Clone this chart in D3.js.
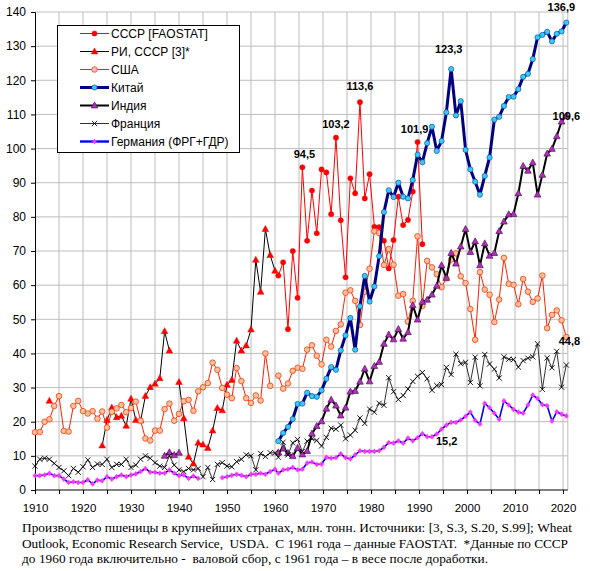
<!DOCTYPE html>
<html>
<head>
<meta charset="utf-8">
<script src="https://cdn.jsdelivr.net/npm/d3@7"></script>
<style>
  body { margin: 0; background: #fff; }
  svg { display: block; }
</style>
</head>
<body>
<svg id="svg" width="590" height="571"></svg>
<script>
// years: [3] part runs 1910..1960, FAOSTAT part 1961..2021
var earlyYears = d3.range(1910, 1961);
var faoYears = d3.range(1961, 2022);

// wheat, mln t, 1910..1960
var usaEarly = [16.9, 17.0, 20.0, 20.7, 24.6, 27.5, 17.3, 17.1, 24.6, 26.1,
                23.1, 22.4, 23.1, 20.9, 23.0, 18.3, 22.9, 23.9, 24.9, 22.8,
                24.0, 25.9, 20.3, 15.1, 14.5, 17.4, 17.4, 23.7, 25.3, 20.3,
                22.3, 26.0, 26.4, 23.2, 28.9, 30.1, 31.3, 37.3, 35.2, 29.9,
                27.9, 26.9, 35.7, 31.9, 26.9, 25.5, 27.7, 26.2, 40.0, 30.5,
                null];
var franceEarly = [7.0, 9.0, 9.3, 9.0, 7.8, 6.6, 5.6, 4.2, 6.3, 5.2,
                   6.8, 8.8, 6.6, 7.6, 7.5, 9.0, 6.6, 7.5, 7.5, 9.0,
                   6.6, 7.3, 9.0, 10.0, 9.3, 8.0, 7.0, 6.6, 10.0, 7.3,
                   5.9, 5.4, 6.3, 5.9, 6.3, 3.9, 6.6, 3.1, 7.5, 8.0,
                   7.0, 6.8, 8.3, 9.0, 10.3, 10.0, 5.9, 10.7, 9.8, 10.9,
                   10.9];
var germanyEarly = [4.2, 4.2, 4.4, 4.9, 4.2, 4.2, 3.2, 2.2, 2.4, 2.2,
                    2.2, 3.0, 1.8, 2.9, 2.7, 3.9, 3.2, 3.9, 4.4, 3.9,
                    4.4, 4.7, 5.4, 6.3, 5.2, 5.2, 4.9, 4.9, 5.9, 4.9,
                    4.2, 4.4, 3.4, 4.1, 3.4, null, null, null, null, 3.6,
                    3.9, 4.3, 4.6, 4.3, 3.9, 4.6, 4.6, 4.9, 4.6, 5.4,
                    6.1];
var riUssrEarly = [null, null, null, 26.1, null, null, null, null, null, null,
                   null, null, null, null, 13.0, 20.5, 24.1, 21.3, 21.7, 18.8,
                   26.7, 20.5, 20.3, 27.5, 30.1, 31.1, 32.7, 46.5, 40.8, null,
                   31.6, 21.0, 9.7, 7.7, 13.8, 13.3, 12.3, 17.4, 24.0, 23.3,
                   30.8, 32.2, 43.7, 40.8, 42.3, 47.0, 67.4, 58.0, 76.4, 68.8,
                   64.2];
var indiaEarly = [null, null, null, null, null, null, null, null, null, null,
                  null, null, null, null, null, null, null, null, null, null,
                  null, null, null, null, null, null, null, 10.0, 11.0, 10.2,
                  10.9, null, null, null, null, null, null, null, null, null,
                  null, null, null, null, null, null, null, null, null, null,
                  null];

// wheat, mln t, FAOSTAT 1961..2021 (USSR 1961..1991)
var ussrFao = [62.8, 66.7, 47.1, 70.0, 56.3, 94.5, 73.0, 87.7, 75.2, 93.9,
               93.0, 80.8, 103.2, 79.0, 62.3, 91.3, 86.9, 113.6, 85.4, 92.5,
               77.1, 77.0, 73.0, 64.9, 73.2, 85.9, 77.6, 79.1, 87.4, 101.9,
               72.0];
var usaFao = [33.5, 29.7, 31.2, 34.9, 35.8, 35.5, 41.1, 42.4, 39.3, 36.8,
              44.0, 42.0, 46.6, 48.5, 57.8, 58.5, 55.4, 48.3, 58.1, 64.8,
              75.8, 75.3, 65.9, 70.6, 66.0, 56.9, 57.4, 49.3, 55.4, 74.3,
              53.9, 67.1, 65.2, 63.2, 59.4, 62.0, 67.5, 69.3, 62.6, 60.6,
              53.0, 44.0, 63.8, 58.7, 57.2, 49.2, 55.8, 68.0, 60.4, 60.1,
              54.4, 61.8, 58.1, 55.1, 56.1, 62.8, 47.4, 51.3, 52.6, 49.7,
              44.8];
var chinaFao = [14.3, 16.7, 18.5, 20.8, 25.2, 25.3, 28.5, 27.5, 27.3, 29.2,
                32.6, 36.0, 35.2, 40.9, 45.3, 50.4, 41.1, 53.8, 62.7, 55.2,
                59.6, 68.5, 81.4, 87.8, 85.8, 90.0, 85.9, 85.4, 90.8, 98.2,
                96.0, 101.6, 106.4, 99.3, 102.2, 110.6, 123.3, 109.7, 113.9, 99.6,
                93.9, 90.3, 86.5, 92.0, 97.4, 108.5, 109.3, 112.5, 115.1, 115.2,
                117.4, 121.0, 121.9, 126.2, 132.6, 133.3, 134.2, 131.4, 133.6, 134.3,
                136.9];
var indiaFao = [11.0, 12.1, 10.8, 9.9, 12.3, 10.4, 11.4, 16.5, 18.7, 20.1,
                23.8, 26.4, 24.7, 21.8, 24.1, 28.8, 29.0, 31.7, 35.5, 31.8,
                36.3, 37.5, 42.8, 45.5, 44.1, 47.1, 44.3, 46.2, 54.1, 49.9,
                55.1, 55.7, 57.2, 59.8, 65.8, 62.1, 69.4, 66.3, 71.3, 76.4,
                69.7, 72.8, 65.8, 72.2, 68.6, 69.4, 75.8, 78.6, 80.7, 80.8,
                86.9, 94.9, 93.5, 95.9, 86.5, 92.3, 98.5, 99.9, 103.6, 107.9,
                109.6];
var franceFao = [9.6, 14.0, 10.3, 13.8, 14.8, 11.3, 14.3, 15.0, 14.5, 12.9,
                 15.4, 18.1, 17.8, 19.0, 15.0, 16.1, 17.5, 21.1, 19.5, 23.7,
                 22.8, 25.4, 24.8, 32.9, 28.8, 26.5, 27.7, 29.6, 31.8, 33.3,
                 34.4, 32.6, 29.2, 30.6, 30.9, 35.9, 33.8, 39.8, 37.0, 37.4,
                 31.5, 38.9, 30.5, 39.7, 36.9, 35.4, 32.8, 39.0, 38.3, 38.2,
                 36.0, 37.9, 38.6, 39.0, 42.8, 29.5, 38.7, 35.8, 40.6, 30.1,
                 36.6];
var germanyFao = [4.9, 5.9, 6.1, 6.6, 5.9, 6.1, 7.9, 8.2, 7.5, 7.6,
                  9.6, 9.3, 9.5, 10.6, 9.5, 9.1, 10.3, 11.5, 11.3, 11.3,
                  11.3, 11.5, 12.5, 13.9, 13.7, 14.4, 13.7, 15.2, 14.4, 15.3,
                  16.5, 15.6, 15.6, 16.4, 17.8, 19.0, 19.8, 19.8, 20.5, 21.6,
                  22.8, 20.4, 19.3, 25.4, 24.1, 22.5, 20.7, 26.1, 24.9, 23.6,
                  22.8, 22.5, 24.9, 27.8, 26.8, 25.0, 24.7, 20.2, 22.9, 22.2,
                  21.7];

var seriesNames = ['СССР [FAOSTAT]', 'РИ, СССР [3]*', 'США', 'Китай', 'Индия', 'Франция', 'Германия (ФРГ+ГДР)'];

var xTicks = d3.range(1910, 2021, 10);
var yTicks = d3.range(0, 141, 10);

// value labels: text, series index, year
var labelTexts = ['94,5', '103,2', '113,6', '101,9', '123,3', '136,9', '109,6', '44,8', '15,2'];
var labelSeries = [0, 0, 0, 0, 3, 3, 4, 2, 6];
var labelYears = [1966, 1973, 1978, 1990, 1997, 2021, 2021, 2021, 1993];

var captionLines = [
  'Производство пшеницы в крупнейших странах, млн. тонн. Источники: [3, S.3, S.20, S.99]; Wheat',
  'Outlook, Economic Research Service,  USDA.  С 1961 года – данные FAOSTAT.  *Данные по СССР',
  'до 1960 года включительно -  валовой сбор, с 1961 года – в весе после доработки.'
];

var svg, xScale, yScale;
var faoShift = 0.3; // FAOSTAT points sit slightly left of the year gridline

document.addEventListener('DOMContentLoaded', function () {
  svg = d3.select('#svg');
  xScale = d3.scaleLinear().domain([1910, 2021]).range([35, 567.8]);
  yScale = d3.scaleLinear().domain([0, 140]).range([490, 12]);
  drawChart();
});

function makePoints(early, fao) {
  var pts = [];
  if (early) early.forEach(function (v, i) { pts.push({ year: earlyYears[i], pos: earlyYears[i], value: v }); });
  if (fao) fao.forEach(function (v, i) { pts.push({ year: faoYears[i], pos: faoYears[i] - faoShift, value: v }); });
  return pts;
}

var triPath = 'M0,-3.6L3.3,2.4L-3.3,2.4Z';
var crossPath = 'M-2.6,-2.6L2.6,2.6M-2.6,2.6L2.6,-2.6';
var diamondPath = 'M0,-2.6L2.3,0L0,2.6L-2.3,0Z';

function drawChart() {
  var series = [
    { pts: makePoints(null, ussrFao), line: '#ff0000', lw: 1, shape: 'circle', r: 2.6, fill: '#ff0000', stroke: '#ff0000', sw: 0.5 },
    { pts: makePoints(riUssrEarly, null), line: '#000000', lw: 1, shape: triPath, fill: '#ff0000', stroke: '#ff0000', sw: 0.5 },
    { pts: makePoints(usaEarly, usaFao), line: '#ff2000', lw: 1, shape: 'circle', r: 2.8, fill: '#ffbf9a', stroke: '#f04010', sw: 0.8 },
    { pts: makePoints(null, chinaFao), line: '#000080', lw: 3, shape: 'circle', r: 2.6, fill: '#33ccff', stroke: '#1a50a0', sw: 0.7 },
    { pts: makePoints(indiaEarly, indiaFao), line: '#000000', lw: 2, shape: triPath, fill: '#b030b8', stroke: '#50105a', sw: 0.7 },
    { pts: makePoints(franceEarly, franceFao), line: '#000000', lw: 0.8, shape: crossPath, fill: 'none', stroke: '#000000', sw: 0.9 },
    { pts: makePoints(germanyEarly, germanyFao), line: '#0000ff', lw: 1.6, shape: diamondPath, fill: '#ff33ff', stroke: '#ff33ff', sw: 0.3 }
  ];

  var plot = svg.append('g');

  // grid
  plot.selectAll('.vgrid')
    .data(d3.range(1915, 2021, 5))
    .join('line')
    .attr('x1', d => xScale(d)).attr('x2', d => xScale(d))
    .attr('y1', yScale(0)).attr('y2', yScale(140))
    .style('stroke', '#bdbdbd').style('stroke-width', 1);
  plot.selectAll('.hgrid')
    .data(yTicks.slice(1))
    .join('line')
    .attr('x1', xScale(1910)).attr('x2', xScale(2021))
    .attr('y1', d => yScale(d)).attr('y2', d => yScale(d))
    .style('stroke', '#bdbdbd').style('stroke-width', 1);
  plot.append('line')
    .attr('x1', xScale(2021)).attr('x2', xScale(2021))
    .attr('y1', yScale(0)).attr('y2', yScale(140))
    .style('stroke', '#bdbdbd');

  // axes
  var yAxis = d3.axisLeft(yScale).tickValues(yTicks).tickSize(4).tickPadding(5);
  var gy = plot.append('g').attr('transform', 'translate(' + xScale(1910) + ',0)').call(yAxis);
  var xAxis = d3.axisBottom(xScale).tickValues(d3.range(1910, 2021, 5)).tickSize(4).tickPadding(10)
    .tickFormat(d => (d % 10 === 0 ? d : ''));
  var gx = plot.append('g').attr('transform', 'translate(0,' + yScale(0) + ')').call(xAxis);
  [gx, gy].forEach(function (g) {
    g.select('.domain').style('stroke', '#000');
    g.selectAll('.tick line').style('stroke', '#000');
    g.selectAll('text').style('font-family', 'Arial, "Liberation Sans", sans-serif').style('fill', '#000');
  });
  gy.selectAll('text').style('font-size', '12px');
  gx.selectAll('text').style('font-size', '11.5px');
  gx.select('.domain').attr('d', 'M' + xScale(1910) + ',0H' + xScale(2021));

  // lines
  var lineGen = d3.line()
    .defined(d => d.value != null)
    .x(d => xScale(d.pos))
    .y(d => yScale(d.value));

  series.forEach(function (s) {
    var g = plot.append('g');
    g.append('path')
      .datum(s.pts)
      .attr('d', lineGen)
      .style('fill', 'none')
      .style('stroke', s.line)
      .style('stroke-width', s.lw)
      .style('stroke-linejoin', 'round');
    var defined = s.pts.filter(d => d.value != null);
    if (s.shape === 'circle') {
      g.selectAll('circle')
        .data(defined)
        .join('circle')
        .attr('cx', d => xScale(d.pos))
        .attr('cy', d => yScale(d.value))
        .attr('r', s.r)
        .style('fill', s.fill).style('stroke', s.stroke).style('stroke-width', s.sw);
    } else {
      g.selectAll('path.mk')
        .data(defined)
        .join('path')
        .attr('class', 'mk')
        .attr('transform', d => 'translate(' + xScale(d.pos) + ',' + yScale(d.value) + ')')
        .attr('d', s.shape)
        .style('fill', s.fill).style('stroke', s.stroke).style('stroke-width', s.sw);
    }
  });

  // value labels
  var labelOffsets = [[2, -9], [0, -10], [0, -12], [-3, -9.5], [-2.5, -16], [-5, -12], [0, 4], [3, 8], [4, 8]];
  labelTexts.forEach(function (t, i) {
    var pts = series[labelSeries[i]].pts;
    var p = pts.find(d => d.year === labelYears[i]);
    plot.append('text')
      .attr('x', xScale(p.pos) + labelOffsets[i][0])
      .attr('y', yScale(p.value) + labelOffsets[i][1])
      .attr('text-anchor', i === 8 ? 'start' : 'middle')
      .style('font-family', 'Arial, "Liberation Sans", sans-serif')
      .style('font-size', '11px')
      .style('font-weight', 'bold')
      .text(t);
  });

  // legend
  var legend = svg.append('g').attr('class', 'legend');
  legend.append('rect')
    .attr('x', 57.5).attr('y', 25.5).attr('width', 182).attr('height', 127)
    .style('fill', '#fff').style('stroke', '#000').style('stroke-width', 1);
  seriesNames.forEach(function (name, i) {
    var s = series[i];
    var row = legend.append('g').attr('transform', 'translate(0,' + (33.5 + i * 18) + ')');
    row.append('line')
      .attr('x1', 80).attr('x2', 109).attr('y1', 0).attr('y2', 0)
      .style('stroke', s.line).style('stroke-width', i === 6 ? 2.4 : s.lw);
    if (s.shape === 'circle') {
      row.append('circle').attr('cx', 94.5).attr('cy', 0).attr('r', s.r)
        .style('fill', s.fill).style('stroke', s.stroke).style('stroke-width', s.sw);
    } else {
      row.append('path').attr('transform', 'translate(94.5,0)').attr('d', s.shape)
        .style('fill', s.fill).style('stroke', s.stroke).style('stroke-width', s.sw);
    }
    row.append('text')
      .attr('x', 111).attr('y', 4.5)
      .style('font-family', 'Arial, "Liberation Sans", sans-serif')
      .style('font-size', '12px')
      .text(name);
  });

  // caption
  var capWidths = [550, 546, 466];
  svg.selectAll('.caption')
    .data(captionLines)
    .join('text')
    .attr('class', 'caption')
    .attr('x', 22)
    .attr('y', (d, i) => 532 + i * 15.5)
    .attr('textLength', (d, i) => capWidths[i])
    .attr('lengthAdjust', 'spacing')
    .style('white-space', 'pre')
    .style('font-family', '"Times New Roman", "Liberation Serif", serif')
    .style('font-size', '13.3px')
    .text(d => d);
}
</script>
</body>
</html>
